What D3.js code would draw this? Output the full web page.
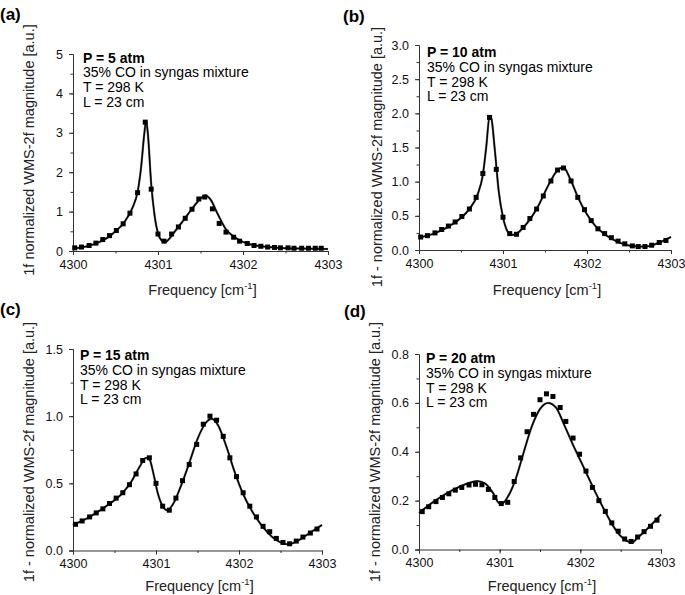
<!DOCTYPE html>
<html>
<head>
<meta charset="utf-8">
<script src="https://cdn.jsdelivr.net/npm/d3@7/dist/d3.min.js"></script>
<style>
  html, body { margin: 0; padding: 0; background: #fff; }
  svg { display: block; font-family: "Liberation Sans", Arial, Helvetica, sans-serif; }
</style>
</head>
<body>
<svg id="chart" width="685" height="595"></svg>
<script>
// ---------- data ----------
const xTickValues = [4300, 4301, 4302, 4303];
const xTickLabels = ["4300", "4301", "4302", "4303"];

const aYTicks = [0, 1, 2, 3, 4, 5];
const bYTicks = [0, 0.5, 1.0, 1.5, 2.0, 2.5, 3.0];
const cYTicks = [0, 0.5, 1.0, 1.5];
const dYTicks = [0, 0.2, 0.4, 0.6, 0.8];

const panelLabels = ["(a)", "(b)", "(c)", "(d)"];
const pressures = ["P = 5 atm", "P = 10 atm", "P = 15 atm", "P = 20 atm"];
const infoLines = ["35% CO in syngas mixture", "T = 298 K", "L = 23 cm"];
const yTitles = [
  "1f normalized WMS-2f magnitude [a.u.]",
  "1f - normalized WMS-2f magnitude [a.u.]",
  "1f - normalized WMS-2f magnitude [a.u.]",
  "1f - normalized WMS-2f magnitude [a.u.]"
];

// (a) P = 5 atm — measured points
const aMeasX = [4300.02, 4300.10, 4300.19, 4300.27, 4300.35, 4300.43, 4300.51, 4300.59, 4300.67, 4300.76,
  4300.85, 4300.92, 4301.00, 4301.07, 4301.16, 4301.24, 4301.32, 4301.40, 4301.48, 4301.55,
  4301.64, 4301.72, 4301.80, 4301.89, 4301.96, 4302.05, 4302.13, 4302.21, 4302.29, 4302.37,
  4302.44, 4302.53, 4302.60, 4302.69, 4302.77, 4302.85, 4302.92];
const aMeasY = [0.08, 0.10, 0.14, 0.20, 0.29, 0.39, 0.52, 0.69, 0.96, 1.48,
  3.27, 1.57, 0.43, 0.25, 0.43, 0.61, 0.83, 1.06, 1.32, 1.37,
  1.07, 0.70, 0.48, 0.35, 0.25, 0.19, 0.14, 0.12, 0.10, 0.09,
  0.08, 0.08, 0.07, 0.07, 0.07, 0.07, 0.07];
// (a) simulation line
const aFitX = [4300.0, 4300.1, 4300.2, 4300.3, 4300.4, 4300.5, 4300.6, 4300.7, 4300.76, 4300.8,
  4300.84, 4300.86, 4300.88, 4300.92, 4300.96, 4301.0, 4301.04, 4301.08, 4301.12, 4301.2,
  4301.3, 4301.4, 4301.5, 4301.56, 4301.62, 4301.7, 4301.8, 4301.9, 4302.0, 4302.1,
  4302.3, 4302.5, 4302.8, 4303.0];
const aFitY = [0.06, 0.09, 0.14, 0.22, 0.33, 0.50, 0.72, 1.10, 1.50, 2.10,
  3.00, 3.30, 3.00, 1.70, 0.90, 0.45, 0.27, 0.22, 0.28, 0.50,
  0.78, 1.07, 1.33, 1.41, 1.30, 0.95, 0.55, 0.35, 0.23, 0.16,
  0.10, 0.07, 0.06, 0.05];

// (b) P = 10 atm
const bMeasX = [4300.02, 4300.10, 4300.19, 4300.27, 4300.35, 4300.43, 4300.51, 4300.60, 4300.68, 4300.76,
  4300.84, 4300.92, 4301.00, 4301.08, 4301.16, 4301.24, 4301.32, 4301.40, 4301.48, 4301.57,
  4301.65, 4301.72, 4301.81, 4301.89, 4301.97, 4302.05, 4302.13, 4302.21, 4302.29, 4302.37,
  4302.45, 4302.54, 4302.61, 4302.69, 4302.77, 4302.86, 4302.94];
const bMeasY = [0.19, 0.21, 0.25, 0.30, 0.35, 0.41, 0.49, 0.60, 0.77, 1.12,
  1.94, 1.18, 0.48, 0.24, 0.23, 0.33, 0.46, 0.60, 0.79, 1.01,
  1.17, 1.20, 1.01, 0.77, 0.59, 0.43, 0.31, 0.24, 0.18, 0.13,
  0.09, 0.06, 0.05, 0.05, 0.07, 0.11, 0.14];
const bFitX = [4300.0, 4300.2, 4300.4, 4300.5, 4300.6, 4300.7, 4300.76, 4300.8, 4300.84, 4300.86,
  4300.9, 4300.95, 4301.0, 4301.05, 4301.1, 4301.15, 4301.25, 4301.4, 4301.55, 4301.65,
  4301.72, 4301.8, 4301.9, 4302.0, 4302.1, 4302.2, 4302.3, 4302.45, 4302.6, 4302.7,
  4302.8, 4302.9, 4303.0];
const bFitY = [0.18, 0.25, 0.38, 0.47, 0.60, 0.82, 1.10, 1.50, 1.95, 1.93,
  1.50, 0.85, 0.48, 0.28, 0.22, 0.23, 0.34, 0.60, 0.97, 1.17,
  1.21, 1.04, 0.75, 0.52, 0.35, 0.24, 0.16, 0.08, 0.05, 0.05,
  0.08, 0.13, 0.19];

// (c) P = 15 atm
const cMeasX = [4300.03, 4300.11, 4300.20, 4300.28, 4300.36, 4300.44, 4300.52, 4300.60, 4300.68, 4300.76,
  4300.84, 4300.92, 4301.00, 4301.08, 4301.16, 4301.24, 4301.32, 4301.40, 4301.49, 4301.57,
  4301.65, 4301.73, 4301.81, 4301.89, 4301.97, 4302.05, 4302.13, 4302.21, 4302.29, 4302.37,
  4302.45, 4302.53, 4302.61, 4302.69, 4302.77, 4302.86, 4302.94];
const cMeasY = [0.195, 0.22, 0.25, 0.28, 0.31, 0.35, 0.39, 0.43, 0.49, 0.57,
  0.67, 0.69, 0.50, 0.33, 0.30, 0.39, 0.52, 0.64, 0.79, 0.94,
  1.00, 0.97, 0.85, 0.69, 0.55, 0.43, 0.33, 0.25, 0.18, 0.14,
  0.09, 0.06, 0.05, 0.07, 0.10, 0.13, 0.16];
const cFitX = [4300.0, 4300.2, 4300.4, 4300.6, 4300.7, 4300.8, 4300.88, 4300.92, 4300.97, 4301.02,
  4301.08, 4301.13, 4301.2, 4301.3, 4301.4, 4301.5, 4301.6, 4301.67, 4301.75, 4301.85,
  4301.95, 4302.05, 4302.2, 4302.35, 4302.5, 4302.6, 4302.7, 4302.85, 4303.0];
const cFitY = [0.19, 0.25, 0.33, 0.43, 0.51, 0.62, 0.69, 0.68, 0.57, 0.43,
  0.33, 0.30, 0.34, 0.48, 0.65, 0.83, 0.95, 0.98, 0.93, 0.77,
  0.58, 0.42, 0.25, 0.13, 0.06, 0.045, 0.07, 0.13, 0.19];

// (d) P = 20 atm
const dMeasX = [4300.04, 4300.12, 4300.21, 4300.29, 4300.37, 4300.45, 4300.53, 4300.62, 4300.70, 4300.78,
  4300.86, 4300.94, 4301.02, 4301.10, 4301.18, 4301.26, 4301.34, 4301.42, 4301.50, 4301.58,
  4301.66, 4301.75, 4301.82, 4301.91, 4301.99, 4302.07, 4302.15, 4302.23, 4302.31, 4302.39,
  4302.47, 4302.55, 4302.63, 4302.71, 4302.79, 4302.87, 4302.95];
const dMeasY = [0.155, 0.175, 0.196, 0.213, 0.228, 0.243, 0.254, 0.264, 0.267, 0.265,
  0.246, 0.213, 0.188, 0.193, 0.278, 0.375, 0.482, 0.553, 0.613, 0.637,
  0.626, 0.581, 0.524, 0.456, 0.390, 0.321, 0.254, 0.200, 0.156, 0.109,
  0.075, 0.043, 0.033, 0.051, 0.073, 0.095, 0.120];
const dFitX = [4300.0, 4300.2, 4300.4, 4300.6, 4300.72, 4300.82, 4300.92, 4301.0, 4301.04, 4301.1,
  4301.2, 4301.3, 4301.4, 4301.5, 4301.6, 4301.7, 4301.8, 4301.9, 4302.0, 4302.1,
  4302.2, 4302.3, 4302.4, 4302.5, 4302.6, 4302.65, 4302.7, 4302.8, 4302.9, 4303.0];
const dFitY = [0.150, 0.200, 0.240, 0.270, 0.280, 0.270, 0.230, 0.188, 0.190, 0.215,
  0.290, 0.400, 0.505, 0.575, 0.600, 0.580, 0.510, 0.435, 0.365, 0.295,
  0.225, 0.160, 0.100, 0.055, 0.032, 0.030, 0.045, 0.075, 0.108, 0.143];

// ---------- layout ----------
const panels = [
  { yTicks: aYTicks, yMinor: 0.5, fmt: d3.format("d"), measX: aMeasX, measY: aMeasY, fitX: aFitX, fitY: aFitY,
    box: { l: 73, r: 328, t: 54, b: 251 }, lab: [0, 20], ann: [83, 62.5], yt: [29, 150], xt: 295 },
  { yTicks: bYTicks, yMinor: 0.25, fmt: d3.format(".1f"), measX: bMeasX, measY: bMeasY, fitX: bFitX, fitY: bFitY,
    box: { l: 419, r: 671, t: 45, b: 250 }, lab: [343, 22], ann: [427, 57], yt: [377, 157], xt: 295 },
  { yTicks: cYTicks, yMinor: 0.25, fmt: d3.format(".1f"), measX: cMeasX, measY: cMeasY, fitX: cFitX, fitY: cFitY,
    box: { l: 73, r: 322, t: 349, b: 550.5 }, lab: [0, 315], ann: [80, 360], yt: [29, 452], xt: 591 },
  { yTicks: dYTicks, yMinor: 0.1, fmt: d3.format(".1f"), measX: dMeasX, measY: dMeasY, fitX: dFitX, fitY: dFitY,
    box: { l: 419, r: 661, t: 354, b: 549.5 }, lab: [344, 317], ann: [426, 363], yt: [375, 452], xt: 591 }
];

const svg = d3.select("#chart");
svg.append("rect").attr("width", 685).attr("height", 595).attr("fill", "#fff");

panels.forEach((p, i) => {
  const g = svg.append("g");
  const yMax = p.yTicks[p.yTicks.length - 1];
  const x = d3.scaleLinear().domain([4300, 4303]).range([p.box.l, p.box.r]);
  const y = d3.scaleLinear().domain([0, yMax]).range([p.box.b, p.box.t]);

  // minor ticks
  const xMinor = d3.range(4300, 4303.001, 0.5);
  const yMinorVals = d3.range(0, yMax + 1e-9, p.yMinor);
  g.append("g").attr("transform", `translate(0,${p.box.b})`)
    .call(d3.axisBottom(x).tickValues(xMinor).tickSize(2.5).tickFormat(""))
    .call(a => a.select(".domain").remove());
  g.append("g").attr("transform", `translate(${p.box.l},0)`)
    .call(d3.axisLeft(y).tickValues(yMinorVals).tickSize(2.5).tickFormat(""))
    .call(a => a.select(".domain").remove());

  // major axes
  const xa = g.append("g").attr("transform", `translate(0,${p.box.b})`)
    .call(d3.axisBottom(x).tickValues(xTickValues).tickSize(4).tickPadding(5)
      .tickFormat((d, k) => xTickLabels[k]));
  const ya = g.append("g").attr("transform", `translate(${p.box.l},0)`)
    .call(d3.axisLeft(y).tickValues(p.yTicks).tickSize(4).tickPadding(6).tickFormat(p.fmt));
  [xa, ya].forEach(a => {
    a.selectAll("text").attr("font-size", 12.5).attr("fill", "#111")
      .attr("font-family", "'Liberation Sans', Arial, sans-serif");
    a.select(".domain").attr("stroke", "#333");
  });
  g.selectAll(".tick line").attr("stroke", "#333");

  // fit line
  const line = d3.line().x(d => x(d[0])).y(d => y(d[1])).curve(d3.curveMonotoneX);
  const fit = p.fitX.map((v, k) => [v, p.fitY[k]]);
  g.append("path").datum(fit).attr("d", line)
    .attr("fill", "none").attr("stroke", "#888").attr("stroke-width", 2.3);
  g.append("path").datum(fit).attr("d", line)
    .attr("fill", "none").attr("stroke", "#000").attr("stroke-width", 1.5);

  // measured squares
  const meas = p.measX.map((v, k) => [v, p.measY[k]]);
  g.selectAll("rect.pt").data(meas).join("rect").attr("class", "pt")
    .attr("x", d => x(d[0]) - 2.5).attr("y", d => y(d[1]) - 2.5)
    .attr("width", 5).attr("height", 5).attr("fill", "#000");

  // annotation
  const ann = g.append("text").attr("x", p.ann[0]).attr("y", p.ann[1])
    .attr("font-size", 14).attr("fill", "#000");
  ann.append("tspan").attr("x", p.ann[0]).attr("font-weight", "bold").text(pressures[i]);
  infoLines.forEach(t => ann.append("tspan").attr("x", p.ann[0]).attr("dy", 14.8).text(t));

  // panel label
  g.append("text").attr("x", p.lab[0]).attr("y", p.lab[1])
    .attr("font-size", 17).attr("font-weight", "bold").text(panelLabels[i]);

  // y title
  g.append("text").attr("transform", `translate(${p.yt[0]},${p.yt[1]}) rotate(-90)`)
    .attr("text-anchor", "middle").attr("dy", "0.35em").attr("font-size", 14.5)
    .attr("fill", "#222").text(yTitles[i]);

  // x title
  const xt = g.append("text").attr("x", (p.box.l + p.box.r) / 2 + 2).attr("y", p.xt)
    .attr("text-anchor", "middle").attr("font-size", 14.5).attr("fill", "#222");
  xt.append("tspan").text("Frequency [cm");
  xt.append("tspan").attr("font-size", 9.5).attr("dy", -6).text("-1");
  xt.append("tspan").attr("dy", 6).text("]");
});
</script>
</body>
</html>
